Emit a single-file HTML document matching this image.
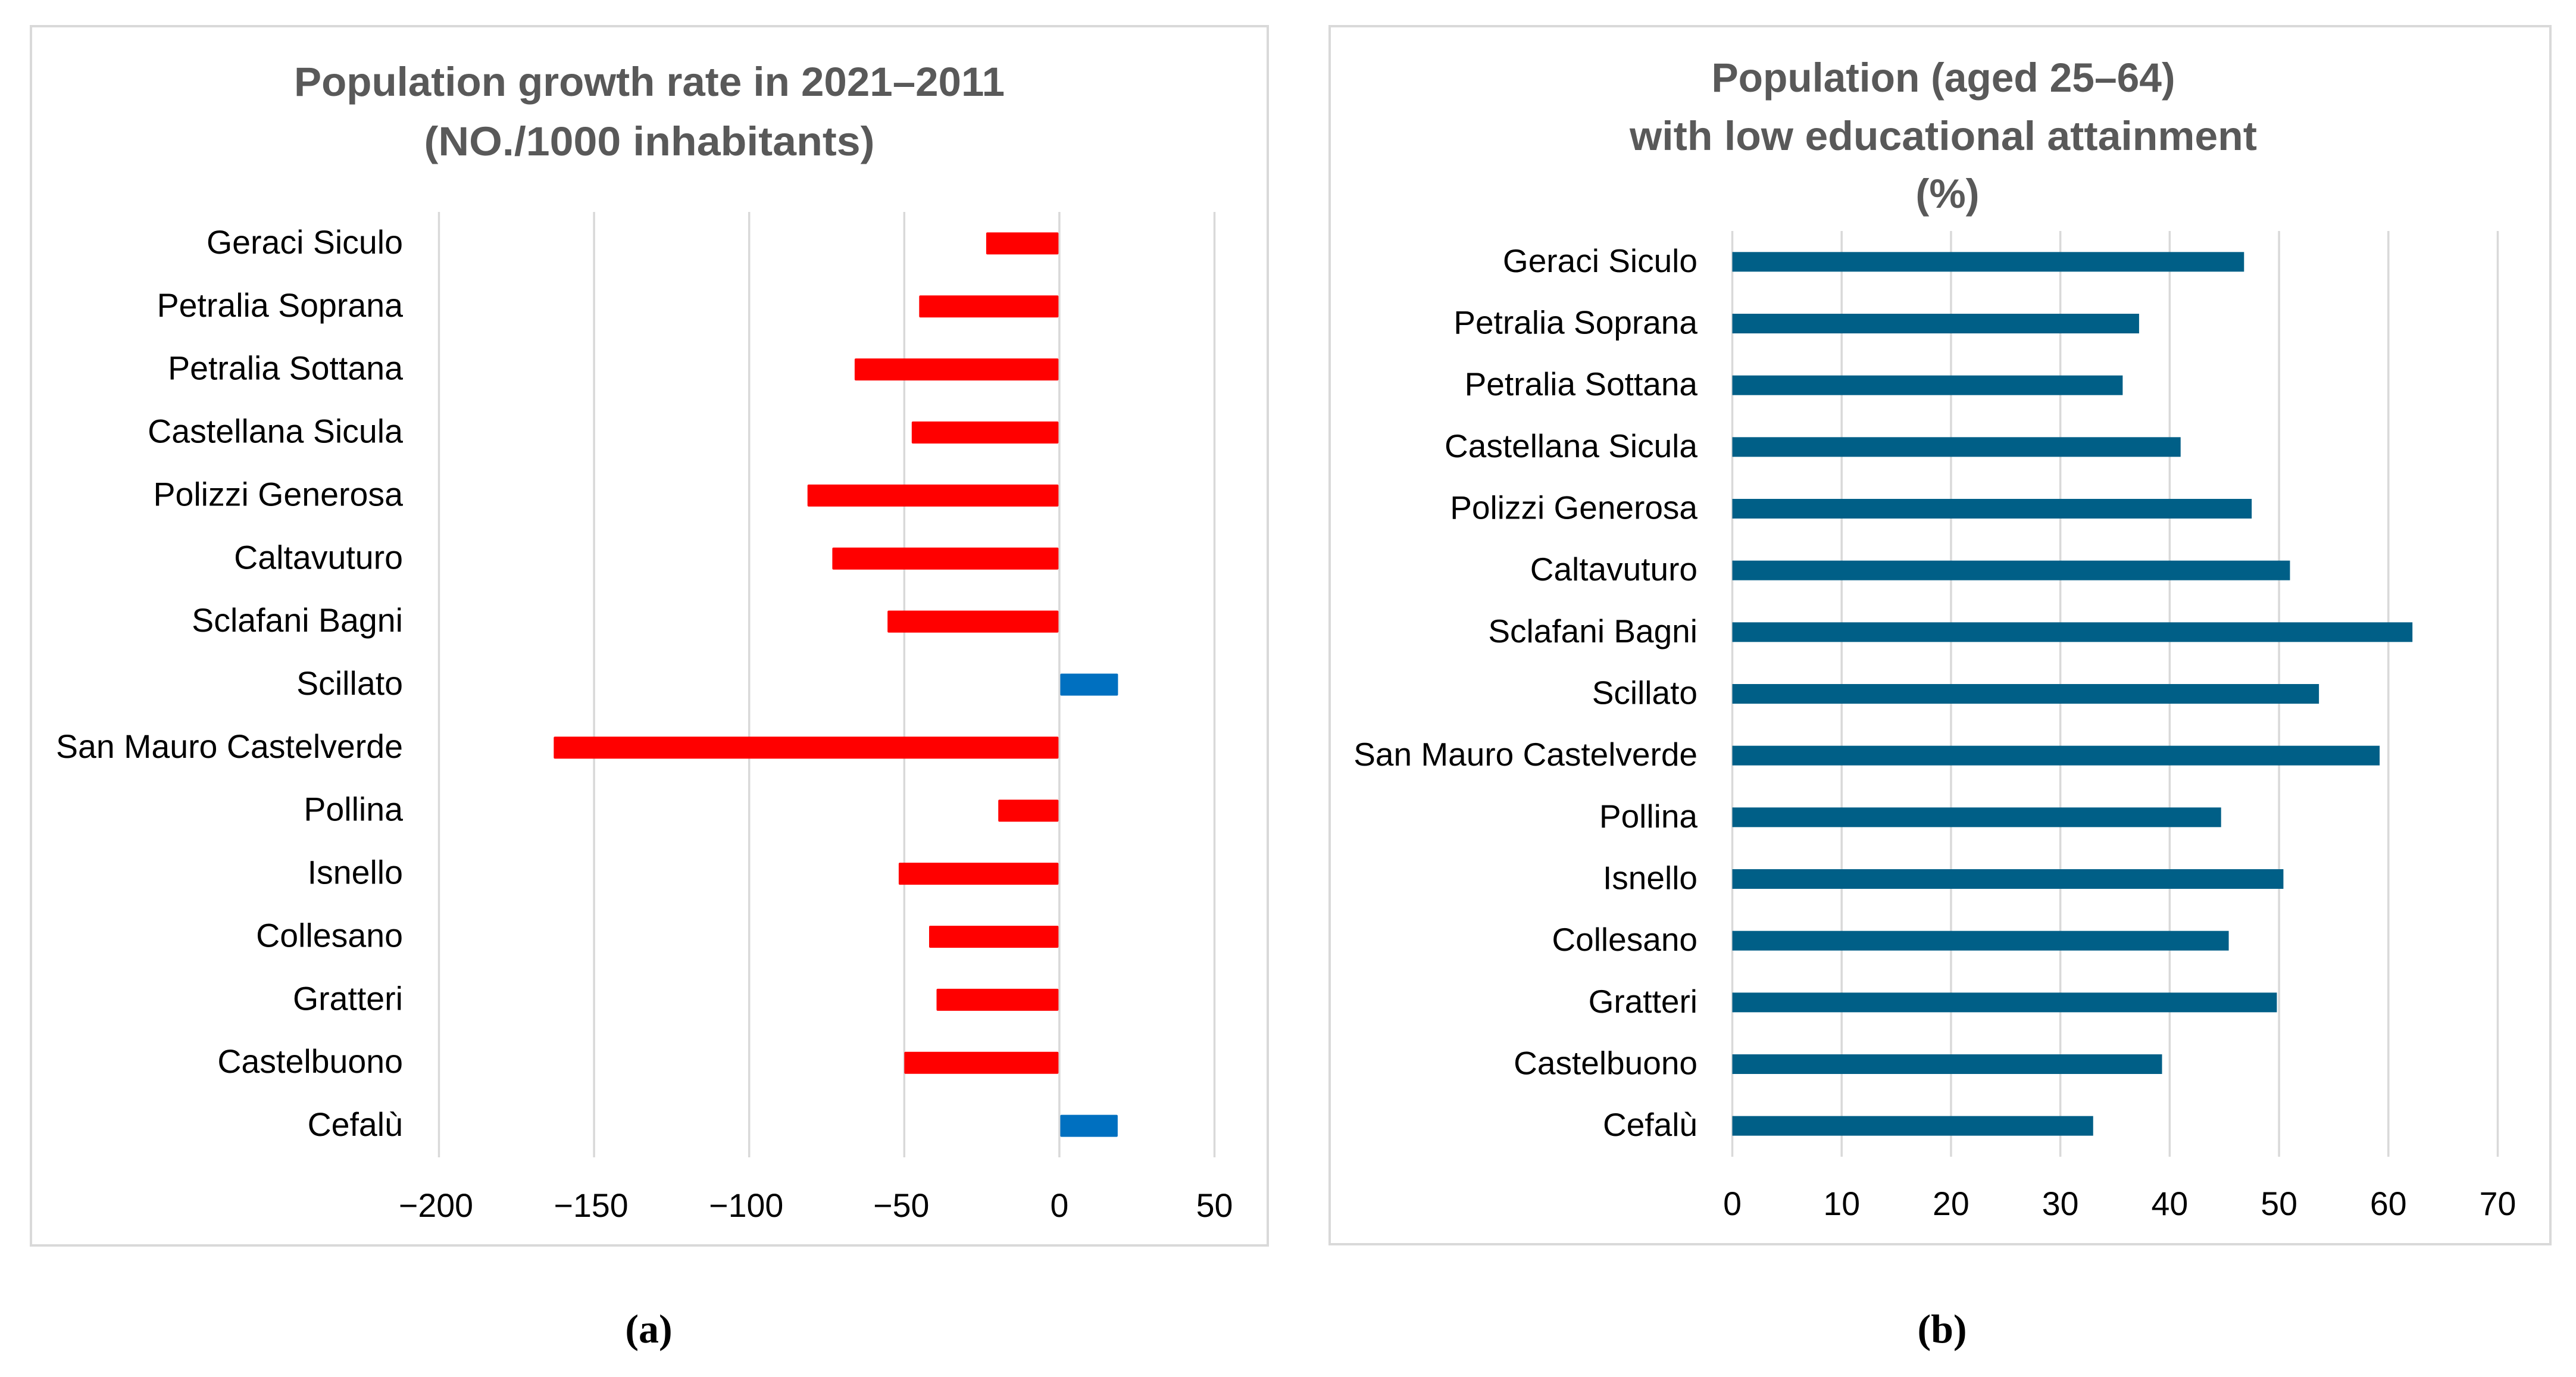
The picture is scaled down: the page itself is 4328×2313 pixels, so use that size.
<!DOCTYPE html>
<html lang="en">
<head>
<meta charset="utf-8">
<title>Population growth rate and low educational attainment</title>
<style>
html,body{margin:0;padding:0;background:#fff;width:4328px;height:2313px;overflow:hidden}
svg{display:block;position:absolute;left:0;top:0}
text{font-family:"Liberation Sans",sans-serif}
.title{font-weight:700;font-size:69px;fill:#595959;text-anchor:middle}
.caption{font-family:"Liberation Serif",serif;font-weight:700;font-size:68px;fill:#000;text-anchor:middle}
.cat{fill:#000;text-anchor:end}
.tick{font-size:55.5px;fill:#000;text-anchor:middle}
</style>
</head>
<body>
<svg id="figure" xmlns="http://www.w3.org/2000/svg" width="4328" height="2313" viewBox="0 0 4328 2313">
  <rect width="4328" height="2313" fill="#fff"/>

  <rect x="52" y="44" width="2078" height="2048" fill="#fff" stroke="#d9d9d9" stroke-width="4"/>
  <text class="title" x="1091" y="161" textLength="1194" lengthAdjust="spacingAndGlyphs">Population growth rate in 2021–2011</text>
  <text class="title" x="1091" y="261" textLength="757" lengthAdjust="spacingAndGlyphs">(NO./1000 inhabitants)</text>
  <g id="chart-a"></g>
  <text class="caption" x="1090" y="2255">(a)</text>

  <rect x="2234" y="44" width="2051" height="2046" fill="#fff" stroke="#d9d9d9" stroke-width="4"/>
  <text class="title" x="3265" y="154" textLength="779" lengthAdjust="spacingAndGlyphs">Population (aged 25–64)</text>
  <text class="title" x="3265" y="252" textLength="1054" lengthAdjust="spacingAndGlyphs">with low educational attainment</text>
  <text class="title" x="3272" y="349">(%)</text>
  <g id="chart-b"></g>
  <text class="caption" x="3263" y="2255">(b)</text>
</svg>

<script>
var categories = ["Geraci Siculo","Petralia Soprana","Petralia Sottana","Castellana Sicula","Polizzi Generosa","Caltavuturo","Sclafani Bagni","Scillato","San Mauro Castelverde","Pollina","Isnello","Collesano","Gratteri","Castelbuono","Cefalù"];
var growthValues = [-23.6,-45.2,-66,-47.6,-81.2,-73.2,-55.4,18.9,-163,-19.7,-51.8,-42,-39.6,-50,18.8];
var growthTicks = [-200,-150,-100,-50,0,50];
var educationValues = [46.8,37.2,35.7,41,47.5,51,62.2,53.65,59.2,44.7,50.4,45.4,49.8,39.3,33];
var educationTicks = [0,10,20,30,40,50,60,70];

var NS = 'http://www.w3.org/2000/svg';

function drawChart(cfg) {
  var g = document.getElementById(cfg.id);
  var tMin = cfg.ticks[0], tMax = cfg.ticks[cfg.ticks.length - 1];
  function xScale(v) { return cfg.x0 + (v - tMin) / (tMax - tMin) * (cfg.x1 - cfg.x0); }
  var rowH = (cfg.yBottom - cfg.yTop) / cfg.cats.length;
  function yScale(i) { return cfg.yTop + (i + 0.5) * rowH; }

  cfg.ticks.forEach(function (t) {
    var line = document.createElementNS(NS, 'line');
    
    
    line.setAttribute('x1', xScale(t));
    line.setAttribute('x2', xScale(t));
    line.setAttribute('y1', cfg.yTop);
    line.setAttribute('y2', cfg.yBottom);
    line.setAttribute('stroke', '#d9d9d9');
    line.setAttribute('stroke-width', '3.5');
    g.appendChild(line);

    var label = document.createElementNS(NS, 'text');
    
    
    label.setAttribute('class', 'tick');
    label.setAttribute('x', xScale(t) - (t < 0 ? 5 : 0));
    label.setAttribute('y', cfg.tickY);
    label.textContent = String(t).replace('-', '\u2212');
    g.appendChild(label);
  });

  cfg.cats.forEach(function (c, i) {
    var v = cfg.values[i];
    var cy = yScale(i);
    var zero = xScale(0);
    var bar = document.createElementNS(NS, 'rect');
    
    
    var left = v < 0 ? xScale(v) : zero + cfg.gap;
    var right = v < 0 ? zero - cfg.gap : xScale(v);
    bar.setAttribute('x', left);
    bar.setAttribute('y', cy - cfg.barH / 2);
    bar.setAttribute('width', Math.max(0, right - left));
    bar.setAttribute('height', cfg.barH);
    bar.setAttribute('rx', cfg.radius);
    bar.setAttribute('fill', v < 0 ? cfg.negColor : cfg.posColor);
    g.appendChild(bar);

    var label = document.createElementNS(NS, 'text');
    
    
    label.setAttribute('class', 'cat');
    label.setAttribute('font-size', cfg.labelSize);
    label.setAttribute('x', cfg.labelX);
    label.setAttribute('y', cy + 17);
    label.textContent = c;
    g.appendChild(label);
  });
}

drawChart({
  id: 'chart-a', cats: categories, values: growthValues, ticks: growthTicks,
  x0: 737.5, x1: 2040.5, yTop: 356, yBottom: 1944,
  barH: 37, gap: 1.5, radius: 2, negColor: '#ff0000', posColor: '#0070c0',
  labelX: 677, labelSize: 55.5, tickY: 2044
});
drawChart({
  id: 'chart-b', cats: categories, values: educationValues, ticks: educationTicks,
  x0: 2910.5, x1: 4196.5, yTop: 388, yBottom: 1943,
  barH: 33, gap: 0, radius: 0, negColor: '#005f87', posColor: '#005f87',
  labelX: 2852, labelSize: 55, tickY: 2041
});
</script>
</body>
</html>
